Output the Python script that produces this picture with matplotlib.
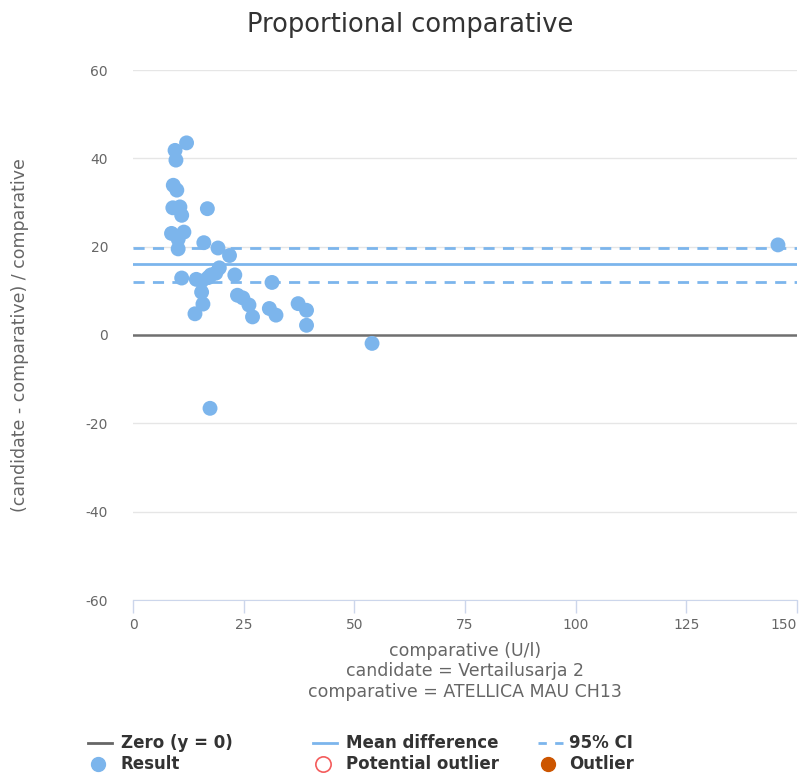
import matplotlib
matplotlib.use("Agg")
import matplotlib.pyplot as plt
from matplotlib.lines import Line2D

plt.rcParams["axes.unicode_minus"] = False

# ---- data ----
comparative = [12.1, 9.5, 9.7, 9.1, 9.9, 9.0, 10.6, 11.0, 16.8, 8.7, 11.5, 10.2, 10.2,
               16.0, 19.2, 21.8, 11.0, 14.3, 15.5, 17.0, 18.7, 19.5, 23.0, 31.4, 15.5,
               15.8, 14.0, 23.6, 24.8, 26.2, 27.0, 30.8, 32.3, 37.3, 39.2, 39.2, 54.0,
               17.4, 145.7, 17.6]
prop_diff = [43.5, 41.8, 39.6, 33.9, 32.8, 28.8, 29.0, 27.1, 28.6, 23.0, 23.3, 21.7, 19.5,
             20.9, 19.7, 18.0, 12.9, 12.6, 12.2, 13.0, 14.0, 15.2, 13.6, 11.9, 9.7,
             7.0, 4.8, 9.0, 8.4, 6.8, 4.1, 6.0, 4.5, 7.1, 5.6, 2.2, -1.9,
             -16.6, 20.4, 13.6]
mean_diff = 16.0
ci_upper = 19.7
ci_lower = 12.0
x_ticks = [0, 25, 50, 75, 100, 125, 150]
y_ticks = [-60, -40, -20, 0, 20, 40, 60]

blue = "#7cb5ec"
W, H = 801, 773
fig = plt.figure(figsize=(W / 100, H / 100), dpi=100)
ax = fig.add_axes([133 / W, 1 - 600 / H, (797 - 133) / W, (600 - 70) / H])

ax.set_xlim(0, 150)
ax.set_ylim(-60, 60)
ax.set_xticks(x_ticks)
ax.set_yticks(y_ticks)
ax.grid(axis="y", color="#e6e6e6", linewidth=1)
ax.set_axisbelow(True)
for s in ["top", "right", "left"]:
    ax.spines[s].set_visible(False)
ax.spines["bottom"].set_color("#ccd6eb")
ax.tick_params(axis="x", colors="#ccd6eb", length=9, width=1, labelcolor="#666666", labelsize=10, pad=4)
ax.tick_params(axis="y", length=0, labelcolor="#666666", labelsize=10, pad=18)
ax.xaxis.get_major_ticks()[-1].label1.set_horizontalalignment("right")

ax.axhline(0, color="#707070", linewidth=1.8, zorder=2)
ax.axhline(mean_diff, color=blue, linewidth=2, zorder=2)
ax.axhline(ci_upper, color=blue, linewidth=2, linestyle=(0, (4, 3)), zorder=2)
ax.axhline(ci_lower, color=blue, linewidth=2, linestyle=(0, (4, 3)), zorder=2)
ax.scatter(comparative, prop_diff, s=115, color=blue, edgecolors="none", zorder=3, clip_on=False)

fig.text(410 / W, 1 - 25 / H, "Proportional comparative", ha="center", va="center",
         fontsize=18.5, color="#333333")
fig.text(20 / W, 1 - 335 / H, "(candidate - comparative) / comparative", rotation=90, ha="center",
         va="center", fontsize=12.5, color="#666666")
cx = (133 + 797) / 2 / W
for txt, yy in [("comparative (U/l)", 651), ("candidate = Vertailusarja 2", 671),
                ("comparative = ATELLICA MAU CH13", 692)]:
    fig.text(cx, 1 - yy / H, txt, ha="center", va="center", fontsize=12.5, color="#666666")

# legend drawn manually in figure pixels
def fx(px):
    return px / W

def fy(py):
    return 1 - py / H

r1, r2 = 743, 764
fig.add_artist(Line2D([fx(88), fx(112)], [fy(r1), fy(r1)], color="#666666", linewidth=2, transform=fig.transFigure))
fig.add_artist(Line2D([fx(313), fx(337)], [fy(r1), fy(r1)], color=blue, linewidth=2, transform=fig.transFigure))
fig.add_artist(Line2D([fx(538), fx(563)], [fy(r1), fy(r1)], color=blue, linewidth=2, linestyle=(0, (3, 3)), transform=fig.transFigure))
fig.add_artist(Line2D([fx(98)], [fy(r2)], marker="o", markersize=10, color=blue, linestyle="none", transform=fig.transFigure))
fig.add_artist(Line2D([fx(323)], [fy(r2)], marker="o", markersize=11, markerfacecolor="white",
                      markeredgecolor="#f45b5b", markeredgewidth=1.2, linestyle="none", transform=fig.transFigure))
fig.add_artist(Line2D([fx(548)], [fy(r2)], marker="o", markersize=10, color="#cc5500", linestyle="none", transform=fig.transFigure))
for txt, px, py in [("Zero (y = 0)", 121, r1), ("Result", 121, r2), ("Mean difference", 346, r1),
                    ("Potential outlier", 346, r2), ("95% CI", 569, r1), ("Outlier", 569, r2)]:
    fig.text(fx(px), fy(py), txt, ha="left", va="center", fontsize=12, fontweight="bold", color="#333333")

fig.savefig("out.png", dpi=100)
